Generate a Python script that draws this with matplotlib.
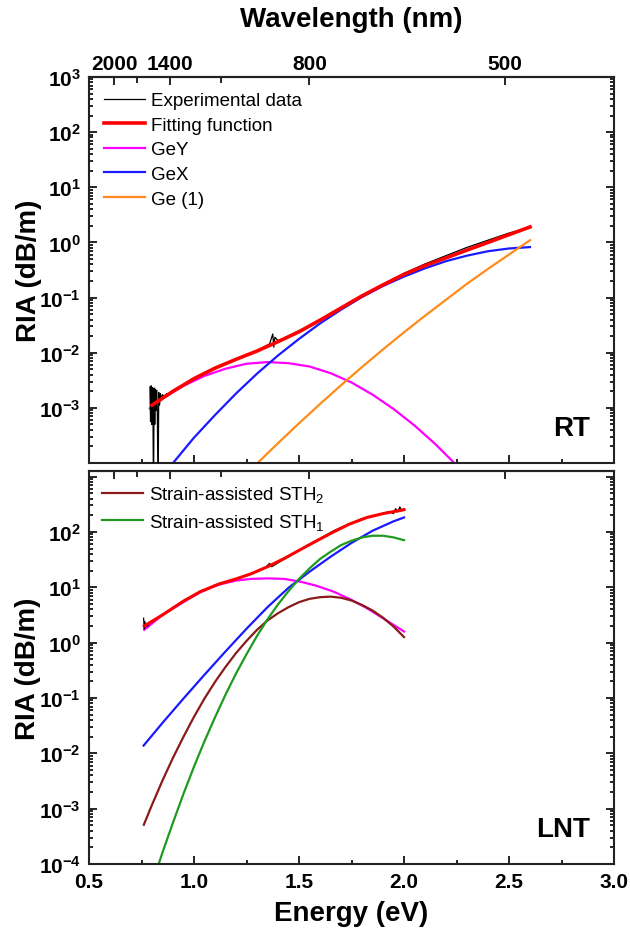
import numpy as np
import matplotlib
matplotlib.use("Agg")
import matplotlib.pyplot as plt
from matplotlib.ticker import FixedLocator, FuncFormatter, LogLocator, NullFormatter, MultipleLocator

plt.rcParams['font.family'] = ['Liberation Sans', 'DejaVu Sans']
plt.rcParams['mathtext.fontset'] = 'custom'
plt.rcParams['mathtext.rm'] = 'Liberation Sans'
plt.rcParams['mathtext.bf'] = 'Liberation Sans:bold'
plt.rcParams['mathtext.it'] = 'Liberation Sans:italic'

# ---- RT panel (energies in eV, RIA as log10(dB/m)) ----
exp_rt_e = [0.790, 0.793, 0.796, 0.799, 0.802, 0.805, 0.807, 0.810, 0.813, 0.816, 0.819,
            0.822, 0.825, 0.829, 0.832, 0.836, 0.840, 0.845, 0.850, 0.86, 0.87, 0.88,
            0.90, 0.95, 1.00, 1.05, 1.10, 1.15, 1.20, 1.25, 1.30, 1.34, 1.36, 1.375,
            1.38, 1.385, 1.40, 1.45, 1.50, 1.55, 1.60, 1.65, 1.70, 1.75, 1.80, 1.90,
            2.00, 2.10, 2.20, 2.30, 2.40, 2.50, 2.55, 2.60]
exp_rt_log = [-2.62, -3.25, -2.60, -3.30, -2.63, -3.35, -4.60, -2.64, -3.30, -2.66, -3.05,
              -2.68, -3.00, -4.60, -2.72, -2.95, -2.74, -2.86, -2.76, -2.80, -2.74, -2.77,
              -2.68, -2.58, -2.46, -2.38, -2.27, -2.20, -2.11, -2.05, -1.96, -1.88, -1.84, -1.66,
              -1.90, -1.72, -1.78, -1.70, -1.60, -1.52, -1.40, -1.30, -1.18, -1.07, -0.96, -0.76,
              -0.56, -0.39, -0.24, -0.09, 0.04, 0.17, 0.22, 0.29]

fit_rt_e = [0.80, 0.90, 1.00, 1.10, 1.20, 1.30, 1.40, 1.50, 1.60, 1.70, 1.80, 1.90,
            2.00, 2.10, 2.20, 2.30, 2.40, 2.50, 2.60]
fit_rt_log = [-2.95, -2.70, -2.47, -2.28, -2.12, -1.97, -1.80, -1.62, -1.41, -1.19, -0.97,
              -0.77, -0.58, -0.42, -0.28, -0.14, 0.00, 0.14, 0.28]

gey_rt_e = [0.79, 0.85, 0.95, 1.05, 1.15, 1.25, 1.35, 1.45, 1.55, 1.65, 1.75, 1.85,
            1.95, 2.05, 2.15, 2.25]
gey_rt_log = [-3.01, -2.83, -2.60, -2.42, -2.29, -2.20, -2.17, -2.19, -2.25, -2.37, -2.54,
              -2.76, -3.02, -3.32, -3.66, -4.04]

gex_rt_e = [0.90, 1.0, 1.1, 1.2, 1.3, 1.4, 1.5, 1.6, 1.7, 1.8, 1.9, 2.0, 2.1, 2.2,
            2.3, 2.4, 2.5, 2.6]
gex_rt_log = [-4.00, -3.54, -3.13, -2.74, -2.38, -2.05, -1.75, -1.47, -1.22, -0.99, -0.79,
              -0.62, -0.47, -0.34, -0.24, -0.16, -0.11, -0.085]

ge1_rt_e = [1.30, 1.40, 1.50, 1.60, 1.70, 1.80, 1.90, 2.00, 2.10, 2.20, 2.30, 2.40, 2.50, 2.60]
ge1_rt_log = [-4.01, -3.64, -3.28, -2.93, -2.59, -2.26, -1.94, -1.63, -1.33, -1.04, -0.75,
              -0.48, -0.22, 0.04]

# ---- LNT panel ----
exp_lnt_e = [0.760, 0.763, 0.766, 0.770, 0.775, 0.78, 0.79, 0.80, 0.82, 0.85, 0.90, 0.95,
             1.00, 1.03, 1.06, 1.10, 1.15, 1.20, 1.25, 1.30, 1.34, 1.36, 1.37, 1.40, 1.45,
             1.50, 1.55, 1.60, 1.665, 1.70, 1.75, 1.80, 1.85, 1.90, 1.93, 1.95, 1.96, 1.97,
             1.98, 1.99, 2.00]
exp_lnt_log = [0.44, 0.25, 0.38, 0.28, 0.33, 0.30, 0.36, 0.37, 0.43, 0.50, 0.63, 0.74,
               0.86, 0.93, 0.97, 1.04, 1.09, 1.15, 1.21, 1.28, 1.36, 1.43, 1.37, 1.44, 1.55,
               1.67, 1.78, 1.88, 2.02, 2.08, 2.16, 2.24, 2.29, 2.33, 2.37, 2.33, 2.42, 2.36,
               2.45, 2.38, 2.42]

fit_lnt_e = [0.763, 0.85, 0.95, 1.03, 1.12, 1.20, 1.27, 1.35, 1.43, 1.507, 1.58, 1.665,
             1.74, 1.824, 1.90, 2.00]
fit_lnt_log = [0.30, 0.50, 0.75, 0.92, 1.06, 1.15, 1.24, 1.37, 1.52, 1.68, 1.83, 2.00,
               2.14, 2.26, 2.33, 2.40]

gey_lnt_e = [0.763, 0.85, 0.953, 1.03, 1.111, 1.20, 1.27, 1.349, 1.43, 1.507, 1.58, 1.665,
             1.74, 1.824, 1.90, 2.00]
gey_lnt_log = [0.23, 0.50, 0.74, 0.91, 1.04, 1.12, 1.15, 1.16, 1.15, 1.10, 1.03, 0.92,
               0.79, 0.62, 0.44, 0.20]

gex_lnt_e = [0.76, 0.85, 0.95, 1.05, 1.15, 1.25, 1.35, 1.45, 1.55, 1.65, 1.75, 1.85, 1.95, 2.00]
gex_lnt_log = [-1.86, -1.45, -1.01, -0.58, -0.16, 0.25, 0.64, 0.99, 1.28, 1.55, 1.80, 2.02,
               2.19, 2.26]

sth2_lnt_e = [0.761, 0.80, 0.85, 0.90, 0.95, 1.00, 1.05, 1.10, 1.15, 1.20, 1.25, 1.30, 1.35,
              1.40, 1.45, 1.50, 1.55, 1.60, 1.65, 1.70, 1.75, 1.80, 1.85, 1.90, 1.95, 2.00]
sth2_lnt_log = [-3.29, -2.93, -2.49, -2.08, -1.70, -1.34, -1.01, -0.71, -0.44, -0.19, 0.03,
                0.23, 0.40, 0.53, 0.64, 0.73, 0.79, 0.82, 0.83, 0.81, 0.76, 0.68, 0.58,
                0.45, 0.29, 0.10]

sth1_lnt_e = [0.80, 0.85, 0.90, 0.95, 1.00, 1.05, 1.10, 1.15, 1.20, 1.25, 1.30, 1.35, 1.40,
              1.45, 1.50, 1.55, 1.60, 1.65, 1.70, 1.75, 1.80, 1.85, 1.90, 1.95, 2.00]
sth1_lnt_log = [-4.36, -3.79, -3.25, -2.73, -2.24, -1.78, -1.35, -0.94, -0.56, -0.21, 0.12,
                0.42, 0.69, 0.93, 1.15, 1.34, 1.51, 1.64, 1.76, 1.84, 1.90, 1.93, 1.93,
                1.90, 1.85]

wl_major = [2000, 1400, 800, 500]
wl_minor = [1700, 1100]
energy_ticks = [0.5, 1.0, 1.5, 2.0, 2.5, 3.0]

HC = 1239.84


def ev_nm(v):
    v = np.asarray(v, dtype=float)
    with np.errstate(divide='ignore', invalid='ignore'):
        return HC / np.where(v == 0, 1e-9, v)


def pow_label(v, pos):
    if v <= 0:
        return ''
    return r'$\mathbf{10^{%d}}$' % int(round(np.log10(v)))


def style_axis(ax, ylim, labelled):
    ax.set_yscale('log')
    ax.set_xlim(0.5, 3.0)
    ax.set_ylim(*ylim)
    ax.yaxis.set_major_locator(FixedLocator([10.0 ** k for k in range(-4, 4)]))
    ax.yaxis.set_major_formatter(FuncFormatter(
        lambda v, p: pow_label(v, p) if v in labelled else ''))
    ax.yaxis.set_minor_locator(LogLocator(base=10, subs=np.arange(2, 10), numticks=20))
    ax.yaxis.set_minor_formatter(NullFormatter())
    ax.xaxis.set_major_locator(MultipleLocator(0.5))
    ax.xaxis.set_minor_locator(MultipleLocator(0.25))
    ax.tick_params(which='both', direction='in', right=True, top=False, width=1.2)
    ax.tick_params(which='major', length=6, labelsize=15, pad=6)
    ax.tick_params(which='minor', length=3)
    for sp in ax.spines.values():
        sp.set_linewidth(1.5)
        sp.set_color('#222222')
    for lab in ax.get_yticklabels():
        lab.set_fontweight('bold')
    ax.set_ylabel('RIA (dB/m)', fontsize=20, fontweight='bold', labelpad=-2)

    sec = ax.secondary_xaxis('top', functions=(ev_nm, ev_nm))
    sec.xaxis.set_major_locator(FixedLocator(wl_major))
    sec.xaxis.set_minor_locator(FixedLocator(wl_minor))
    sec.tick_params(which='both', direction='in', width=1.2)
    sec.tick_params(which='major', length=6, labelsize=15, pad=3)
    sec.tick_params(which='minor', length=4)
    sec.spines['top'].set_linewidth(1.5)
    return sec


def pw(a):
    return 10.0 ** np.asarray(a)


fig = plt.figure(figsize=(6.3, 9.37), dpi=100)
ax1 = fig.add_axes([0.1413, 0.5048, 0.8333, 0.4120])
ax2 = fig.add_axes([0.1413, 0.0768, 0.8333, 0.4195])

lw_c = 1.6

# RT panel
ax1.plot(exp_rt_e, pw(exp_rt_log), color='black', lw=0.9, label='Experimental data', zorder=3)
ax1.plot(fit_rt_e, pw(fit_rt_log), color='#ff0000', lw=2.6, label='Fitting function', zorder=4)
ax1.plot(gey_rt_e, pw(gey_rt_log), color='#ff00ff', lw=lw_c, label='GeY', zorder=2)
ax1.plot(gex_rt_e, pw(gex_rt_log), color='#1a1aff', lw=lw_c, label='GeX', zorder=2)
ax1.plot(ge1_rt_e, pw(ge1_rt_log), color='#ff8c1a', lw=lw_c, label='Ge (1)', zorder=2)
sec1 = style_axis(ax1, (1e-4, 1e3), [10.0 ** k for k in range(-3, 4)])
ax1.tick_params(labelbottom=False)
for lab in sec1.get_xticklabels():
    lab.set_fontweight('bold')
sec1.set_xlabel('Wavelength (nm)', fontsize=20, fontweight='bold', labelpad=20)
ax1.legend(loc='upper left', frameon=False, fontsize=13.5, handlelength=2.2,
           handletextpad=0.3, labelspacing=0.4, borderaxespad=0.4)
ax1.text(0.955, 0.09, 'RT', transform=ax1.transAxes, ha='right', va='center',
         fontsize=20, fontweight='bold')

# LNT panel
ax2.plot(exp_lnt_e, pw(exp_lnt_log), color='black', lw=0.9, zorder=3)
ax2.plot(fit_lnt_e, pw(fit_lnt_log), color='#ff0000', lw=2.2, zorder=4)
ax2.plot(gey_lnt_e, pw(gey_lnt_log), color='#ff00ff', lw=lw_c, zorder=2)
ax2.plot(gex_lnt_e, pw(gex_lnt_log), color='#1a1aff', lw=lw_c, zorder=2)
ax2.plot(sth2_lnt_e, pw(sth2_lnt_log), color='#8b1a1a', lw=lw_c, label='Strain-assisted STH$_2$')
ax2.plot(sth1_lnt_e, pw(sth1_lnt_log), color='#1f9a1f', lw=lw_c, label='Strain-assisted STH$_1$')
sec2 = style_axis(ax2, (1e-4, 10 ** 3.1), [10.0 ** k for k in range(-4, 3)])
sec2.tick_params(labeltop=False)
ax2.set_xticks(energy_ticks)
ax2.set_xticklabels(['%.1f' % v for v in energy_ticks], fontweight='bold')
ax2.set_xlabel('Energy (eV)', fontsize=20, fontweight='bold', labelpad=6)
ax2.legend(loc='upper left', frameon=False, fontsize=13.5, handlelength=2.2,
           handletextpad=0.3, labelspacing=0.4, borderaxespad=0.3)
ax2.text(0.955, 0.09, 'LNT', transform=ax2.transAxes, ha='right', va='center',
         fontsize=20, fontweight='bold')

fig.savefig('out.png', dpi=100)
